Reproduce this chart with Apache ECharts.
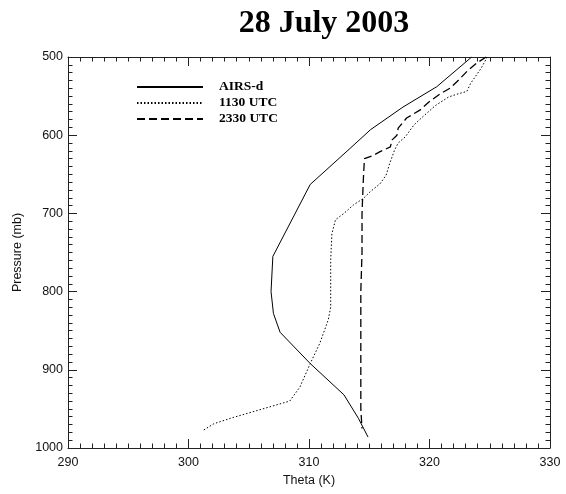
<!DOCTYPE html>
<html>
<head>
<meta charset="utf-8">
<script src="https://cdn.jsdelivr.net/npm/echarts@6/dist/echarts.min.js"></script>
<style>html,body{margin:0;padding:0;background:#fff}#c{width:566px;height:494px}</style>
</head>
<body>
<div id="c"></div>
<script>
var titleText = '28 July 2003';
var seriesNames = ['AIRS-d', '1130 UTC', '2330 UTC'];
var xTicks = [290, 300, 310, 320, 330];
var yTicks = [500, 600, 700, 800, 900, 1000];

var airsPressure = [500, 538, 564, 593, 617, 663, 755, 800, 828, 852, 892, 932, 962, 986];
var airsTheta    = [323.5, 320.6, 317.8, 315.1, 313.4, 310.1, 307.0, 306.85, 307.05, 307.6, 310.1, 312.9, 314.1, 314.9];

var s1130Pressure = [500, 514, 523, 534, 544, 547, 551, 562, 577, 587, 602, 610, 619, 636, 651, 662, 672, 681, 689, 700, 708, 726, 760, 800, 820, 836, 866, 892, 922, 940, 961, 969, 978];
var s1130Theta    = [324.8, 324.3, 323.9, 323.4, 323.1, 322.4, 321.6, 320.5, 319.4, 318.7, 318.0, 317.4, 317.1, 316.7, 316.4, 315.9, 315.1, 314.5, 313.7, 312.9, 312.2, 311.9, 311.8, 311.8, 311.8, 311.6, 310.9, 310.1, 309.25, 308.4, 303.7, 302.1, 301.15];

var s2330Pressure = [500, 508, 517, 532, 540, 547, 557, 568, 578, 591, 600, 606, 615, 621, 626, 630, 660, 700, 750, 800, 850, 900, 950, 975];
var s2330Theta    = [324.7, 323.9, 323.2, 322.25, 321.7, 320.9, 320.0, 319.2, 318.1, 317.4, 317.3, 316.9, 316.75, 315.9, 315.3, 314.6, 314.5, 314.4, 314.4, 314.3, 314.3, 314.3, 314.3, 314.4];

function pairs(th, p) { return th.map(function (t, i) { return [t, p[i]]; }); }

var axisCol = '#222';
var labelFont = { color: '#111', fontFamily: 'Liberation Sans', fontSize: 12.5 };

function xAx(pos, show) {
  return {
    type: 'value', position: pos, min: xTicks[0], max: xTicks[xTicks.length - 1], interval: 10,
    name: show ? 'Theta (K)' : '', nameLocation: 'middle', nameGap: 26,
    nameTextStyle: labelFont,
    axisLine: { show: true, onZero: false, lineStyle: { color: axisCol, width: 1 } },
    axisTick: { show: true, inside: true, length: 9, lineStyle: { color: axisCol } },
    minorTick: { show: true, splitNumber: 10, length: 4.5, lineStyle: { color: axisCol } },
    axisLabel: { show: show, margin: 8, color: '#111', fontFamily: 'Liberation Sans', fontSize: 12.5,
      formatter: function (v) { return String(v); } },
    splitLine: { show: false }
  };
}
function yAx(pos, show) {
  return {
    type: 'value', position: pos, inverse: true, min: yTicks[0], max: yTicks[yTicks.length - 1], interval: 100,
    name: show ? 'Pressure (mb)' : '', nameLocation: 'middle', nameGap: 40, nameRotate: 90,
    nameTextStyle: labelFont,
    axisLine: { show: true, onZero: false, lineStyle: { color: axisCol, width: 1 } },
    axisTick: { show: true, inside: true, length: 9, lineStyle: { color: axisCol } },
    minorTick: { show: true, splitNumber: 10, length: 4.5, lineStyle: { color: axisCol } },
    axisLabel: { show: show, margin: 5, color: '#111', fontFamily: 'Liberation Sans', fontSize: 12.5,
      formatter: function (v) { return String(v); } },
    splitLine: { show: false }
  };
}

var chart = echarts.init(document.getElementById('c'), null, { renderer: 'canvas' });
chart.setOption({
  animation: false,
  backgroundColor: '#fff',
  title: {
    text: titleText, left: 319, top: 3, textAlign: 'center',
    textStyle: { fontFamily: 'Liberation Serif', fontWeight: 'bold', fontSize: 32, color: '#000' }
  },
  grid: { left: 68, right: 16, top: 57, bottom: 46 },
  legend: {
    orient: 'vertical', left: 131, top: 75, itemWidth: 66, itemHeight: 14, itemGap: 2,
    data: seriesNames,
    itemStyle: { color: 'rgba(0,0,0,0)', borderWidth: 0, borderColor: 'rgba(0,0,0,0)' },
    textStyle: { fontFamily: 'Liberation Serif', fontWeight: 'bold', fontSize: 13.5, color: '#000', lineHeight: 14, padding: [0, 0, 0, 11] }
  },
  xAxis: [xAx('bottom', true), xAx('top', false)],
  yAxis: [yAx('left', true), yAx('right', false)],
  series: [
    { name: seriesNames[0], type: 'line', xAxisIndex: 0, yAxisIndex: 0, symbol: 'none', showSymbol: false,
      lineStyle: { color: '#000', width: 1, type: 'solid' }, itemStyle: { color: '#000' },
      data: pairs(airsTheta, airsPressure) },
    { name: seriesNames[1], type: 'line', xAxisIndex: 0, yAxisIndex: 0, symbol: 'none', showSymbol: false,
      lineStyle: { color: '#000', width: 1, type: [1.5, 2] }, itemStyle: { color: '#000' },
      data: pairs(s1130Theta, s1130Pressure) },
    { name: seriesNames[2], type: 'line', xAxisIndex: 0, yAxisIndex: 0, symbol: 'none', showSymbol: false,
      lineStyle: { color: '#000', width: 1.3, type: [8, 4] }, itemStyle: { color: '#000' },
      data: pairs(s2330Theta, s2330Pressure) }
  ]
});
</script>
</body>
</html>
